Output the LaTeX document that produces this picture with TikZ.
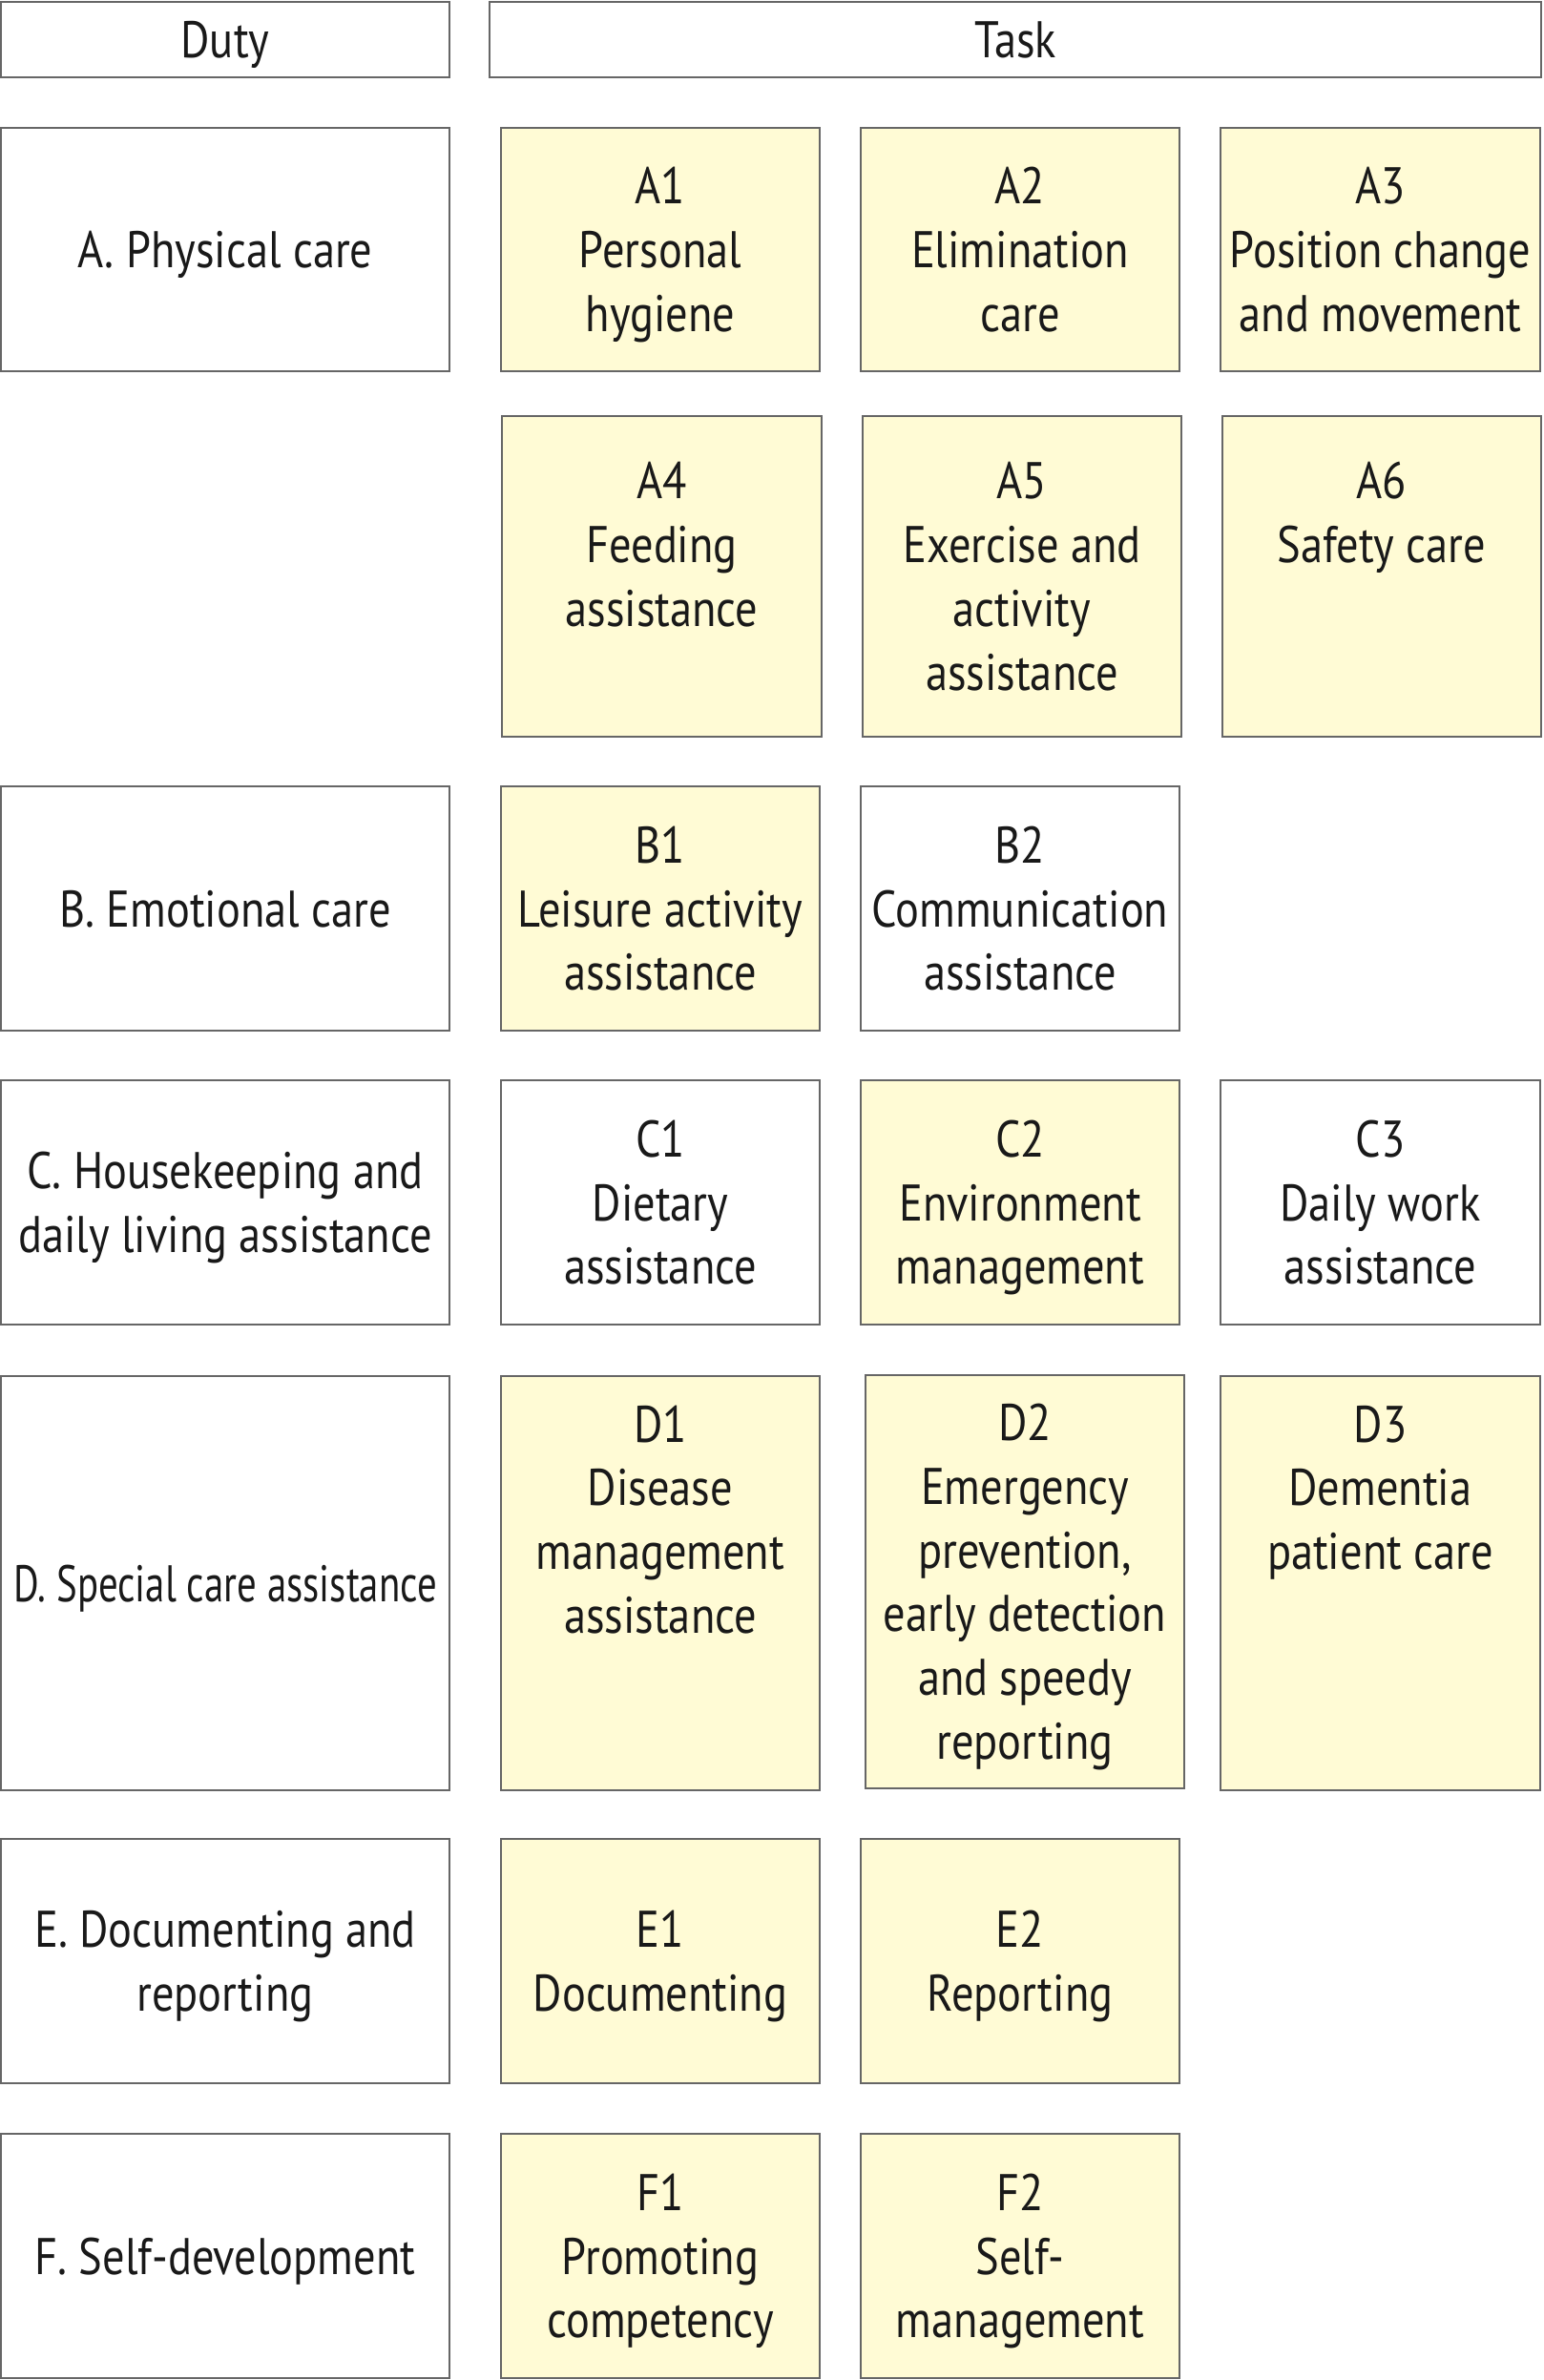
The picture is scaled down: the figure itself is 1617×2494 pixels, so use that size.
\documentclass[tikz,border=0pt]{standalone}
\usepackage{fontspec}
\newfontfamily\tf{PT Sans}[FakeStretch=0.86]
\definecolor{boxyellow}{HTML}{FFFBD5}
\definecolor{boxline}{HTML}{666666}
\newcommand\ls{\rule[-7.2pt]{0pt}{33.4pt}}
\newcommand\tx[1]{\vbox{\let\\\cr\baselineskip=33.4pt\lineskiplimit=-100pt\lineskip=0pt%
  \halign{\ls\hfil##\hfil\cr#1\crcr}}}
\newcommand\bx[7]{%
  \pgfmathsetmacro\bxw{(#4-#2)*0.5}%
  \pgfmathsetmacro\bxh{(#5-#3)*0.5}%
  \node[#6, minimum width=\bxw pt, minimum height=\bxh pt] (#1) at ({(#2+#4)/2},{(#3+#5)/2}) {\tx{#7}};}
\tikzset{
  cell/.style={draw=boxline, line width=1.2pt, rectangle, inner sep=0pt,
    font=\tf\fontsize{27}{33.4}\selectfont, text=black!90},
  plain/.style={cell, fill=white},
  task/.style={cell, fill=boxyellow},
}
\begin{document}
\begin{tikzpicture}[x=0.5pt,y=-0.5pt]
\useasboundingbox (0,0) rectangle (1617,2494);
% headers
\bx{duty}{1}{2}{471}{81}{plain}{Duty}
\bx{task}{513}{2}{1615}{81}{plain}{Task}
% row A
\bx{dA}{1}{134}{471}{389}{plain}{A. Physical care}
\bx{A1}{525}{134}{859}{389}{task}{A1\\Personal\\hygiene}
\bx{A2}{902}{134}{1236}{389}{task}{A2\\Elimination\\care}
\bx{A3}{1279}{134}{1614}{389}{task}{A3\\Position change\\and movement}
\bx{A4}{526}{436}{861}{772}{task}{A4\\Feeding\\assistance\\~}
\bx{A5}{904}{436}{1238}{772}{task}{A5\\Exercise and\\activity\\assistance}
\bx{A6}{1281}{436}{1615}{772}{task}{A6\\Safety care\\~\\~}
% row B
\bx{dB}{1}{824}{471}{1080}{plain}{B. Emotional care}
\bx{B1}{525}{824}{859}{1080}{task}{B1\\Leisure activity\\assistance}
\bx{B2}{902}{824}{1236}{1080}{plain}{B2\\Communication\\assistance}
% row C
\bx{dC}{1}{1132}{471}{1388}{plain}{C. Housekeeping and\\daily living assistance}
\bx{C1}{525}{1132}{859}{1388}{plain}{C1\\Dietary\\assistance}
\bx{C2}{902}{1132}{1236}{1388}{task}{C2\\Environment\\management}
\bx{C3}{1279}{1132}{1614}{1388}{plain}{C3\\Daily work\\assistance}
% row D
\bx{dD}{1}{1442}{471}{1876}{plain}{\scalebox{0.88}[1]{D. Special care assistance}}
\bx{D1}{525}{1442}{859}{1876}{task}{D1\\Disease\\management\\assistance\\~\\~}
\bx{D2}{907}{1441}{1241}{1874}{task}{D2\\Emergency\\prevention,\\early detection\\and speedy\\reporting}
\bx{D3}{1279}{1442}{1614}{1876}{task}{D3\\Dementia\\patient care\\~\\~\\~}
% row E
\bx{dE}{1}{1927}{471}{2183}{plain}{E. Documenting and\\reporting}
\bx{E1}{525}{1927}{859}{2183}{task}{E1\\Documenting}
\bx{E2}{902}{1927}{1236}{2183}{task}{E2\\Reporting}
% row F
\bx{dF}{1}{2236}{471}{2492}{plain}{F. Self-development}
\bx{F1}{525}{2236}{859}{2492}{task}{F1\\Promoting\\competency}
\bx{F2}{902}{2236}{1236}{2492}{task}{F2\\Self-\\management}
\end{tikzpicture}
\end{document}
